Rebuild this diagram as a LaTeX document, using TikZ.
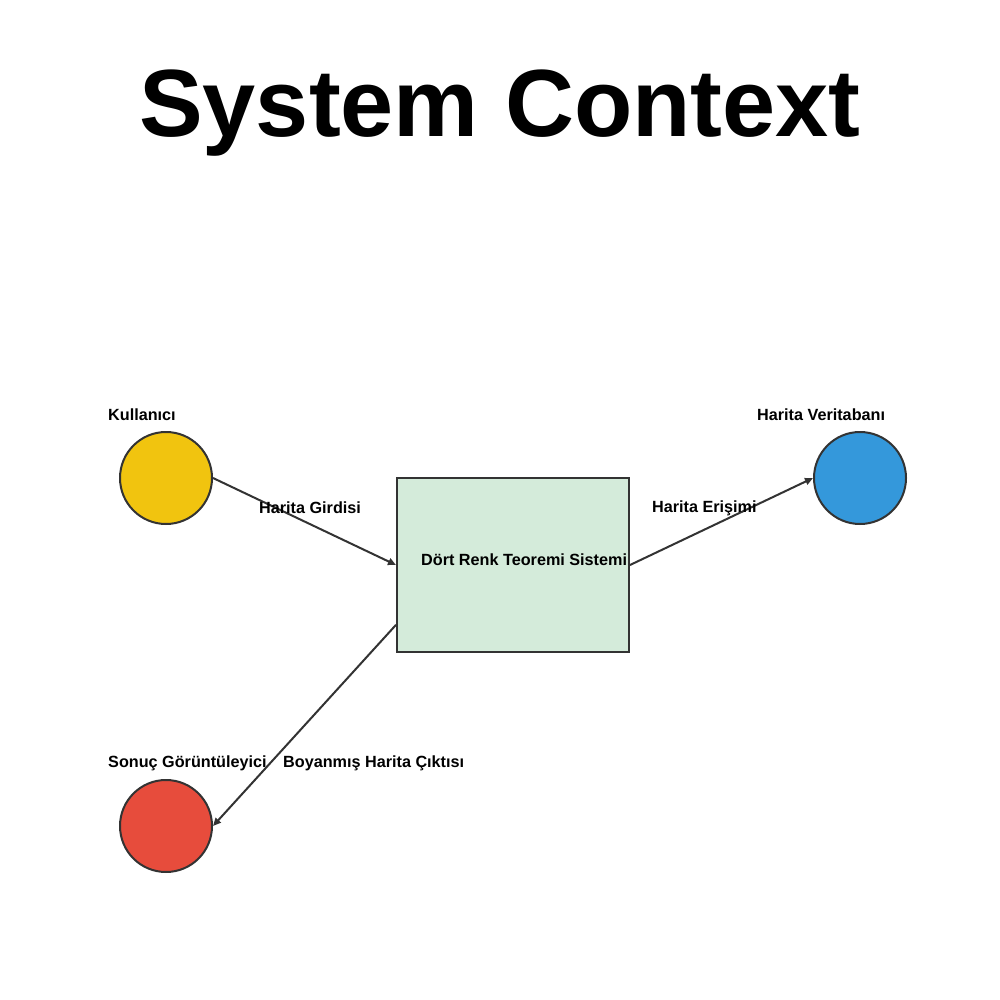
\documentclass[tikz,border=0pt]{standalone}
\usepackage{fontspec}
\setmainfont{Liberation Sans}
\usepackage{xcolor}
\usetikzlibrary{arrows.meta,calc}

\definecolor{userYellow}{HTML}{F1C40F}
\definecolor{dbBlue}{HTML}{3498DB}
\definecolor{viewRed}{HTML}{E74C3C}
\definecolor{sysGreen}{HTML}{D4EBDA}
\definecolor{lineGray}{HTML}{333333}

\tikzset{
	actor/.style={circle,draw=lineGray,line width=2pt,minimum size=92pt,inner sep=0pt},
	sysbox/.style={rectangle,draw=lineGray,line width=2pt,fill=sysGreen,minimum width=232pt,minimum height=174pt,inner sep=0pt},
	lbl/.style={font=\fontsize{16.2}{19}\selectfont\bfseries,text=black,inner sep=0pt}
}

\begin{document}
\begin{tikzpicture}[x=1pt,y=-1pt]
		\useasboundingbox (0,0) rectangle (1000,1000);
		\node (title) at (500,113) {\fontsize{95.5}{110}\selectfont\bfseries System Context};
		%
		\node[actor,fill=userYellow] (K) at (166,478) {};
		\node[actor,fill=dbBlue] (V) at (860,478) {};
		\node[actor,fill=viewRed] (S) at (166,826) {};
		\node[sysbox] (D) at (513,565) {};
		%
		\node[lbl,anchor=west] (K') at (108,415) {Kullanıcı};
		\node[lbl,anchor=west] (V') at (757,415) {Harita Veritabanı};
		\node[lbl,anchor=west] (S') at (108,763) {Sonuç Görüntüleyici};
		\node[lbl,anchor=west] (D') at (421,560) {Dört Renk Teoremi Sistemi};
		\coordinate (Dout) at ($(D.south west)!0.16!(D.north west)$);
		%
		\path[-{Triangle[length=8pt,width=7pt]},lineGray,line width=2pt]
		(K.east) edge (D.west)
		(D.east) edge (V.west)
		(Dout) edge (S.east);
		\node[lbl,anchor=west] (KD) at (259,508) {Harita Girdisi};
		\node[lbl,anchor=west] (DV) at (652,508) {Harita Erişimi};
		\node[lbl,anchor=west] (DS) at (283,763) {Boyanmış Harita Çıktısı};
		\end{tikzpicture}
\end{document}
